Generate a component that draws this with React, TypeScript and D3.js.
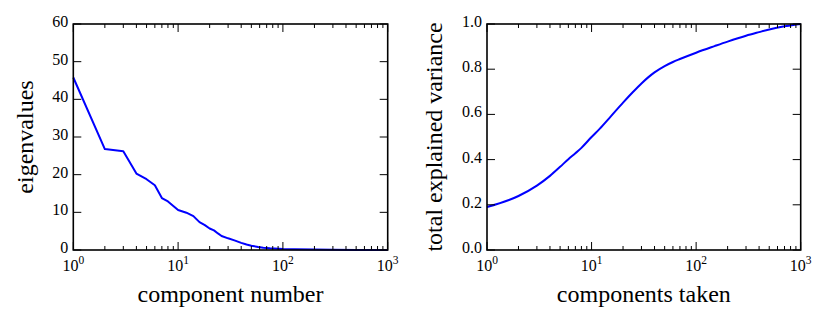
import React from "react";
import * as d3 from "d3";

// eigenvalue spectrum (left panel)
const componentNumber = [1, 2, 3, 4, 5, 6, 7, 8, 9, 10, 12, 14, 16, 18, 20, 22, 24, 26, 30, 35, 40, 45, 50, 58, 65, 75, 100, 130, 200, 300, 500, 700, 1000];
const eigenvalues = [45.8, 26.8, 26.2, 20.3, 18.8, 17.2, 13.8, 12.9, 11.7, 10.6, 9.9, 9.0, 7.4, 6.6, 5.7, 5.2, 4.4, 3.7, 3.1, 2.5, 1.9, 1.45, 1.15, 0.8, 0.6, 0.45, 0.27, 0.18, 0.1, 0.06, 0.03, 0.02, 0.01];

// cumulative explained variance (right panel)
const componentsTaken = [1, 2, 3, 4, 5, 6, 7, 8, 10, 12, 15, 20, 25, 30, 35, 40, 50, 60, 70, 100, 150, 200, 300, 400, 500, 700, 850, 1000];
const explainedVariance = [0.19, 0.239, 0.285, 0.328, 0.368, 0.402, 0.428, 0.452, 0.5, 0.537, 0.587, 0.652, 0.7, 0.737, 0.765, 0.786, 0.814, 0.832, 0.845, 0.873, 0.902, 0.922, 0.948, 0.964, 0.976, 0.99, 0.996, 1.0];

const xTickExps = [0, 1, 2, 3];
const leftYTicks = [0, 10, 20, 30, 40, 50, 60];
const rightYTicks = [0, 0.2, 0.4, 0.6, 0.8, 1.0];

const W = 830;
const H = 322;
const top = 24;
const bottom = 250;
const FONT = "'Liberation Serif', 'DejaVu Serif', serif";

type PanelProps = {
  left: number;
  right: number;
  xs: number[];
  ys: number[];
  yDomain: [number, number];
  yTicks: number[];
  yFmt: (v: number) => string;
  xLabel: string;
  yLabel: string;
  yLabelX: number;
  smooth: boolean;
};

const Panel = (p: PanelProps) => {
  const x = d3.scaleLog().domain([1, 1000]).range([p.left, p.right]);
  const y = d3.scaleLinear().domain(p.yDomain).range([bottom, top]);

  const minor: number[] = [];
  for (let k = 0; k < 3; k++) {
    for (let m = 2; m < 10; m++) minor.push(m * Math.pow(10, k));
  }

  const line = d3.line<number>()
    .x((_, i) => x(p.xs[i]))
    .y(d => y(d))
    .curve(p.smooth ? d3.curveMonotoneX : d3.curveLinear);

  const cx = (p.left + p.right) / 2;
  const cy = (top + bottom) / 2;

  return (
    <g fill="#000">
      <path d={line(p.ys) || ""} fill="none" stroke="#0000ff" strokeWidth={2} strokeLinejoin="round" />

      {minor.map(v => (
        <g key={"m" + v} stroke="#000" strokeWidth={1}>
          <line x1={x(v)} x2={x(v)} y1={bottom} y2={bottom - 4} />
          <line x1={x(v)} x2={x(v)} y1={top} y2={top + 4} />
        </g>
      ))}
      {xTickExps.map(e => (
        <g key={"x" + e}>
          <line x1={x(Math.pow(10, e))} x2={x(Math.pow(10, e))} y1={bottom} y2={bottom - 8} stroke="#000" strokeWidth={1} />
          <line x1={x(Math.pow(10, e))} x2={x(Math.pow(10, e))} y1={top} y2={top + 8} stroke="#000" strokeWidth={1} />
          <text x={x(Math.pow(10, e))} y={271} textAnchor="middle" fontSize={16} fontFamily={FONT}>
            10<tspan dy={-7} fontSize={11.5}>{e}</tspan>
          </text>
        </g>
      ))}
      {p.yTicks.map(v => (
        <g key={"y" + v}>
          <line x1={p.left} x2={p.left + 8} y1={y(v)} y2={y(v)} stroke="#000" strokeWidth={1} />
          <line x1={p.right} x2={p.right - 8} y1={y(v)} y2={y(v)} stroke="#000" strokeWidth={1} />
          <text x={p.left - 5} y={y(v) + 3} textAnchor="end" fontSize={16} fontFamily={FONT}>{p.yFmt(v)}</text>
        </g>
      ))}

      <rect x={p.left} y={top} width={p.right - p.left} height={bottom - top} fill="none" stroke="#000" strokeWidth={1.6} />

      <text x={cx} y={302} textAnchor="middle" fontSize={24} fontFamily={FONT}>{p.xLabel}</text>
      <text transform={`translate(${p.yLabelX},${cy}) rotate(-90)`} textAnchor="middle" fontSize={24} fontFamily={FONT}>{p.yLabel}</text>
    </g>
  );
};

export default function App() {
  return (
    <svg width={W} height={H} style={{ position: "absolute", left: 0, top: 0, background: "#fff" }}>
      <Panel
        left={73.3}
        right={387.7}
        xs={componentNumber}
        ys={eigenvalues}
        yDomain={[0, 60]}
        yTicks={leftYTicks}
        yFmt={v => String(v)}
        xLabel="component number"
        yLabel="eigenvalues"
        yLabelX={33}
        smooth={false}
      />
      <Panel
        left={487}
        right={800.7}
        xs={componentsTaken}
        ys={explainedVariance}
        yDomain={[0, 1]}
        yTicks={rightYTicks}
        yFmt={v => v.toFixed(1)}
        xLabel="components taken"
        yLabel="total explained variance"
        yLabelX={442}
        smooth={true}
      />
    </svg>
  );
}
